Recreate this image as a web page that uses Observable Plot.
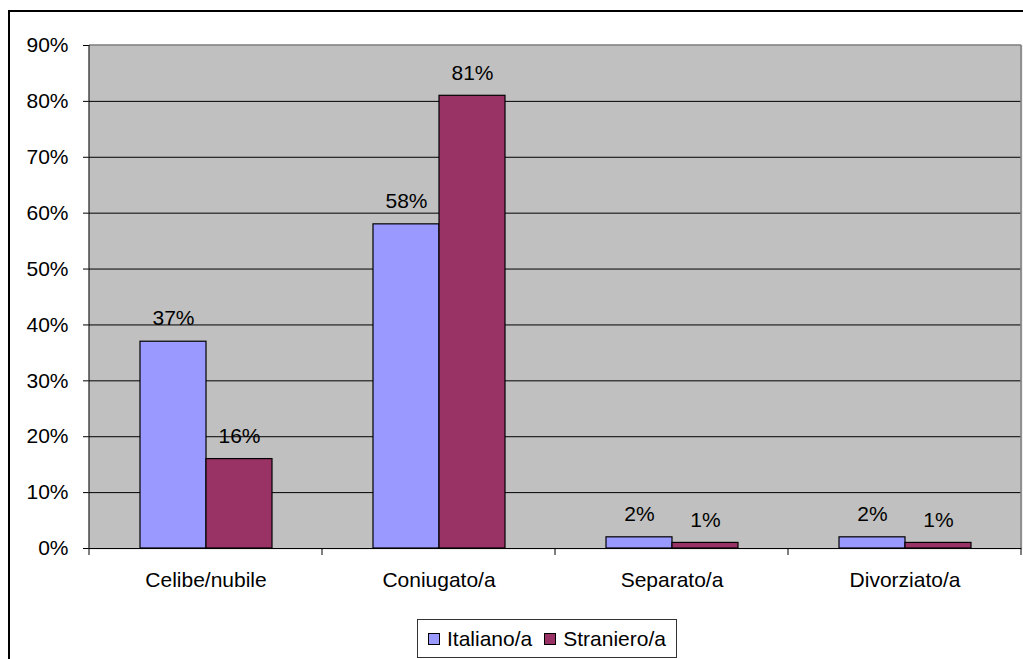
<!DOCTYPE html>
<html>
<head>
<meta charset="utf-8">
<script src="https://cdn.jsdelivr.net/npm/d3@7"></script>
<script src="https://cdn.jsdelivr.net/npm/@observablehq/plot@0.6"></script>
<style>
  html, body { margin: 0; padding: 0; background: #fff; }
  #wrap { position: relative; width: 1023px; height: 659px; overflow: hidden; font-family: "Liberation Sans", Arial, sans-serif; }
  #frame { position: absolute; left: 8px; top: 10px; width: 1100px; height: 760px; border: 2px solid #000; box-sizing: border-box; pointer-events: none; }
  #chart { position: absolute; left: 0; top: 0; }
  #legend { position: absolute; left: 417px; top: 619px; width: 260px; height: 39px; border: 1px solid #333; box-sizing: border-box; display: flex; align-items: center; justify-content: center; gap: 12px; font-size: 21px; color: #000; background: #fff; }
  .item { display: flex; align-items: center; gap: 7px; }
  .sw { width: 10px; height: 10px; border: 1px solid #000; display: inline-block; }
</style>
</head>
<body>
<div id="wrap">
  <div id="chart"></div>
  <div id="legend"></div>
  <div id="frame"></div>
</div>
<script>
const categories = ["Celibe/nubile", "Coniugato/a", "Separato/a", "Divorziato/a"];
const series = ["Italiano/a", "Straniero/a"];
const italiano = [37, 58, 2, 2];
const straniero = [16, 81, 1, 1];
const yTicks = [0, 10, 20, 30, 40, 50, 60, 70, 80, 90];
const colors = ["#9999FF", "#993366"];

const data = [];
categories.forEach((c, i) => {
  data.push({cat: c, series: series[0], value: italiano[i]});
  data.push({cat: c, series: series[1], value: straniero[i]});
});

const plot = Plot.plot({
  width: 1023,
  height: 600,
  marginLeft: 89,
  marginRight: 2,
  marginTop: 45,
  marginBottom: 52,
  style: {fontFamily: "'Liberation Sans', Arial, sans-serif", fontSize: "21px", color: "#000", background: "transparent"},
  fx: {domain: categories, padding: 0, label: null, axis: "bottom", tickSize: 0, tickPadding: 24},
  x: {domain: series, paddingInner: 0, paddingOuter: 0.74, axis: null},
  y: {domain: [0, 90], ticks: yTicks, tickFormat: d => d + "%", label: null, tickSize: 6, tickPadding: 15},
  color: {domain: series, range: colors},
  marks: [
    Plot.frame({fill: "#C0C0C0", stroke: "#C0C0C0", strokeWidth: 1.5}),
    Plot.ruleY(yTicks.filter(t => t > 0 && t < 90), {stroke: "#000", strokeWidth: 1}),
    Plot.barY(data, {fx: "cat", x: "series", y: "value", fill: "series", stroke: "#000", strokeWidth: 1.2, inset: 0}),
    Plot.text(data, {fx: "cat", x: "series", y: "value", text: d => d.value + "%", dy: -23, fontSize: 21, fill: "#000"}),
    Plot.ruleY([0], {stroke: "#000", strokeWidth: 1})
  ]
});

document.getElementById("chart").appendChild(plot);

// axis decorations using the plot's own scales
const fx = plot.scale("fx");
const y = plot.scale("y");
const svg = d3.select(plot);
const y0 = y.apply(0), yTop = y.apply(90);
const left = fx.apply(categories[0]);
const right = fx.apply(categories[categories.length - 1]) + fx.bandwidth;
const g = svg.append("g");
g.append("line").attr("x1", left).attr("x2", right).attr("y1", yTop).attr("y2", yTop).attr("stroke", "#808080").attr("stroke-width", 1.5);
g.append("line").attr("x1", right).attr("x2", right).attr("y1", yTop).attr("y2", y0).attr("stroke", "#808080").attr("stroke-width", 1.5);
g.append("line").attr("x1", left).attr("x2", left).attr("y1", yTop).attr("y2", y0).attr("stroke", "#000").attr("stroke-width", 1);
const bounds = categories.map(c => fx.apply(c)).concat([right]);
bounds.forEach(b => {
  g.append("line").attr("x1", b).attr("x2", b).attr("y1", y0).attr("y2", y0 + 7).attr("stroke", "#000").attr("stroke-width", 1);
});

// legend
const legend = d3.select("#legend");
series.forEach((s, i) => {
  const it = legend.append("div").attr("class", "item");
  it.append("span").attr("class", "sw").style("background", colors[i]);
  it.append("span").text(s);
});
</script>
</body>
</html>
